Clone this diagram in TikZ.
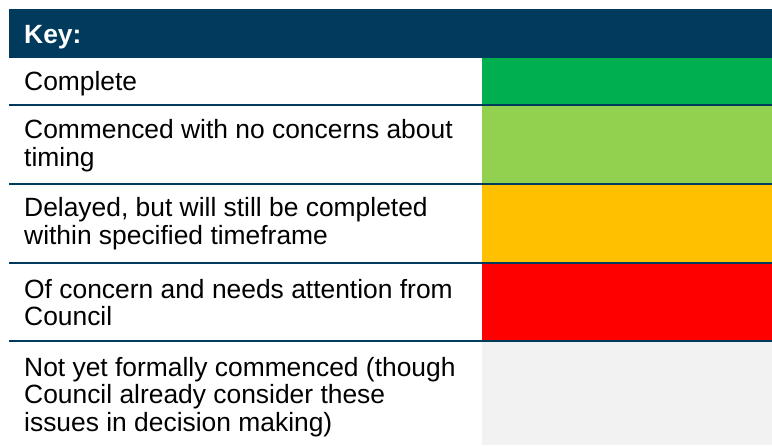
\documentclass[tikz,border=0pt]{standalone}
\usepackage{fontspec}
\setmainfont{Liberation Sans}
\definecolor{navy}{HTML}{003A5C}
\definecolor{cgreen}{HTML}{00B050}
\definecolor{clime}{HTML}{92D050}
\definecolor{corange}{HTML}{FFC000}
\definecolor{cred}{HTML}{FF0000}
\definecolor{cgrey}{HTML}{F2F2F2}
\tikzset{
  keytext/.style={anchor=base west, inner sep=0pt, align=left, text=black,
    font=\fontsize{26.4}{27.6}\selectfont},
  sepline/.style={draw=navy, line width=2.2pt},
}
\begin{document}
\begin{tikzpicture}[x=1pt,y=-1pt]
\useasboundingbox (0,0) rectangle (772,445);
% header
\fill[navy] (9,9) rectangle (772,58);
\node[keytext, text=white, font=\fontsize{26.4}{27.6}\selectfont\bfseries] (key) at (24,43.3) {Key:};
% colour cells
\fill[cgreen]  (482,58)  rectangle (772,105);
\fill[clime]   (482,105) rectangle (772,184);
\fill[corange] (482,184) rectangle (772,263);
\fill[cred]    (482,263) rectangle (772,341);
\fill[cgrey]   (482,341) rectangle (772,445);
% separators
\coordinate (s1l) at (9,105);  \coordinate (s1r) at (772,105);
\coordinate (s2l) at (9,184);  \coordinate (s2r) at (772,184);
\coordinate (s3l) at (9,263);  \coordinate (s3r) at (772,263);
\coordinate (s4l) at (9,341);  \coordinate (s4r) at (772,341);
\draw[sepline] (s1l) -- (s1r);
\draw[sepline] (s2l) -- (s2r);
\draw[sepline] (s3l) -- (s3r);
\draw[sepline] (s4l) -- (s4r);
% texts (base anchor = baseline of the last line)
\node[keytext] (t1) at (24,90.7) {Complete};
\node[keytext] (t2) at (24,166.1) {Commenced with no concerns about\\timing};
\node[keytext] (t3) at (24,244.5) {Delayed, but will still be completed\\within specified timeframe};
\node[keytext] (t4) at (24,325.6) {Of concern and needs attention from\\Council};
\node[keytext] (t5) at (24,431.5) {Not yet formally commenced (though\\Council already consider these\\issues in decision making)};
\end{tikzpicture}
\end{document}
